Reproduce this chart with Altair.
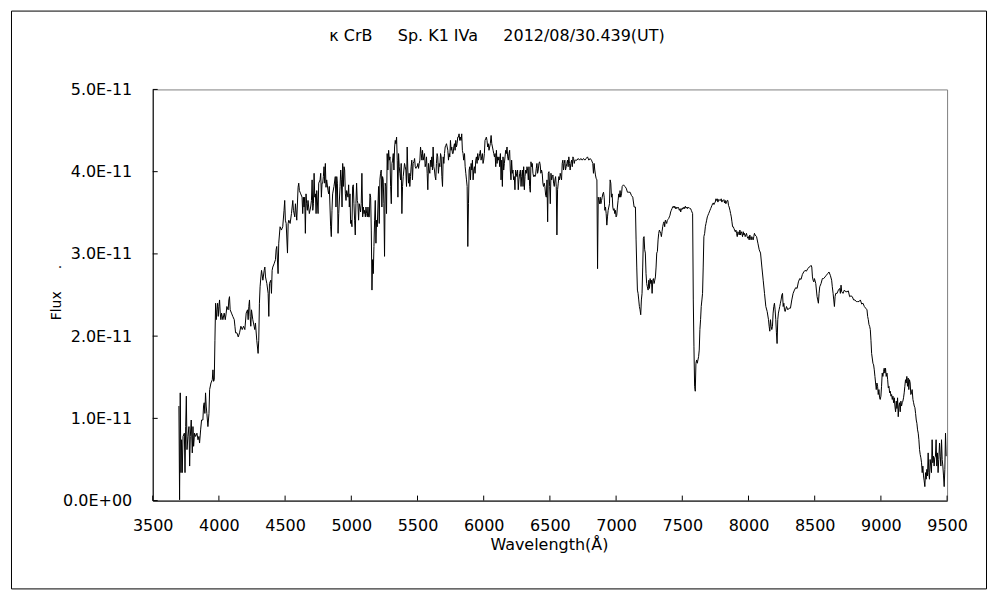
import altair as alt
import pandas as pd

# ---------------- text ----------------
NB = "\u00a0"
TITLE = "κ CrB" + NB * 5 + "Sp. K1 IVa" + NB * 5 + "2012/08/30.439(UT)"
X_TITLE = "Wavelength(Å)"
Y_TITLE = "Flux" + NB * 5 + "."

X_TICKS = [3500, 4000, 4500, 5000, 5500, 6000, 6500, 7000, 7500, 8000, 8500, 9000, 9500]
Y_TICKS_E11 = [0, 1, 2, 3, 4, 5]
Y_TICK_LABELS = ["0.0E+00", "1.0E-11", "2.0E-11", "3.0E-11", "4.0E-11", "5.0E-11"]

# ---------------- spectrum (flux in units of 1E-11) ----------------
BLUE_WL = [
    3698, 3703, 3708, 3713, 3718, 3723, 3729, 3739, 3744, 3749,
    3754, 3759, 3766, 3774, 3779, 3784, 3791, 3799, 3804, 3809,
    3816, 3824, 3834, 3842, 3849, 3854, 3862, 3869, 3879, 3884,
    3889, 3894, 3899, 3904, 3909, 3917, 3925, 3930, 3940, 3950,
    3955, 3960, 3965, 3970, 3975, 3980, 3985, 3990, 3995, 4000,
    4005, 4010, 4015, 4020, 4030, 4040, 4048, 4055, 4060, 4070,
    4075, 4080, 4085, 4095, 4105, 4116, 4121, 4126, 4136, 4146,
    4156, 4166, 4176, 4186, 4196, 4206, 4216, 4221, 4226, 4231,
    4236, 4241, 4246, 4256, 4266, 4271, 4276, 4286, 4296, 4301,
    4306, 4311, 4317, 4322, 4332, 4342, 4347, 4352, 4362, 4372,
    4377, 4382, 4392, 4397, 4402, 4407, 4417, 4427, 4432, 4437,
    4447, 4452, 4462, 4472, 4482, 4492, 4497, 4502, 4508, 4518,
    4523, 4528, 4538, 4548, 4558, 4563, 4573, 4578, 4588, 4598,
    4603, 4608, 4618, 4628, 4633, 4638, 4643, 4648, 4653, 4658,
    4663, 4668, 4673, 4683, 4693, 4699, 4704, 4709, 4714, 4719,
    4724, 4729, 4734, 4739, 4749, 4754, 4764, 4769, 4774, 4779,
    4784, 4789, 4794, 4799, 4804, 4809, 4814, 4824, 4829,
]
BLUE_FLUX = [
    1.15, 0.01, 1.31, 0.34, 0.74, 0.34, 0.78, 0.82, 0.34, 0.90,
    1.27, 0.62, 0.78, 0.90, 0.42, 0.78, 0.98, 0.58, 0.90, 0.66,
    0.82, 0.78, 0.82, 0.74, 0.78, 0.70, 0.86, 0.98, 0.98, 1.15,
    1.19, 1.06, 1.31, 1.15, 1.06, 0.90, 1.06, 1.35, 1.43, 1.47,
    1.59, 1.45, 1.47, 1.95, 2.40, 2.20, 2.32, 2.40, 2.24, 2.36,
    2.44, 2.28, 2.20, 2.28, 2.20, 2.28, 2.20, 2.28, 2.36, 2.32,
    2.44, 2.48, 2.32, 2.28, 2.24, 2.20, 2.12, 2.04, 2.04, 1.99,
    2.04, 2.12, 2.08, 2.12, 2.08, 2.28, 2.32, 2.20, 2.36, 2.44,
    2.24, 2.12, 2.32, 2.20, 2.12, 2.08, 2.16, 1.95, 1.79, 1.95,
    2.40, 2.60, 2.72, 2.80, 2.68, 2.80, 2.84, 2.72, 2.64, 2.52,
    2.24, 2.64, 2.68, 2.52, 2.80, 2.84, 2.88, 2.93, 3.05, 3.09,
    2.76, 3.13, 3.33, 3.29, 3.33, 3.53, 3.65, 3.41, 3.37, 3.01,
    3.37, 3.41, 3.37, 3.49, 3.65, 3.53, 3.45, 3.61, 3.41, 3.81,
    3.86, 3.77, 3.73, 3.69, 3.49, 3.69, 3.57, 3.69, 3.25, 3.73,
    3.61, 3.53, 3.65, 3.49, 3.57, 3.65, 3.90, 3.53, 3.61, 3.98,
    3.69, 3.73, 3.49, 3.77, 3.49, 3.86, 3.90, 3.98, 3.69, 3.86,
    3.86, 3.94, 4.06, 3.86, 4.10, 3.81, 3.90, 3.77, 3.73,
]

GREEN_WL = [
    4834, 4844, 4849, 4854, 4859, 4869, 4879, 4884, 4890, 4895,
    4900, 4905, 4915, 4920, 4925, 4930, 4935, 4940, 4945, 4950,
    4955, 4960, 4965, 4975, 4980, 4985, 4990, 4995, 5000, 5005,
    5010, 5015, 5020, 5025, 5030, 5035, 5040, 5045, 5050, 5055,
    5060, 5065, 5070, 5075, 5080, 5086, 5091, 5096, 5101, 5106,
    5111, 5116, 5121, 5126, 5131, 5136, 5141, 5146, 5151, 5156,
    5161, 5166, 5171, 5176, 5181, 5186, 5191, 5196, 5201, 5206,
    5211, 5216, 5221, 5226, 5231, 5236, 5241, 5246, 5251, 5256,
    5261, 5266, 5271, 5276, 5282, 5287, 5292, 5297, 5302, 5307,
    5312, 5317, 5322, 5327, 5332, 5337, 5342, 5347, 5352, 5357,
    5362, 5367, 5372, 5377, 5382, 5387, 5392, 5397, 5402, 5407,
    5412, 5417, 5422, 5427, 5432, 5437, 5442, 5447, 5452, 5457,
    5462, 5467, 5473, 5478, 5483, 5488, 5493, 5498, 5503, 5508,
    5513, 5518, 5523, 5528, 5533, 5538, 5543, 5548, 5553, 5558,
    5563, 5568, 5573, 5578, 5583, 5588, 5593, 5598, 5603, 5608,
    5613, 5618, 5623, 5628, 5633, 5638, 5643, 5648, 5653, 5658,
    5664, 5669, 5674, 5679, 5684, 5689, 5694, 5699, 5704, 5709,
    5714, 5719, 5724, 5729, 5734, 5739, 5744, 5749, 5754, 5759,
    5764, 5769, 5774, 5779, 5784, 5789, 5794, 5799, 5804, 5809,
    5814, 5819, 5824, 5829, 5834, 5839, 5844, 5849, 5855, 5860,
    5865, 5870, 5875, 5880, 5885, 5890, 5895, 5900, 5905, 5910,
    5915, 5920, 5925, 5930, 5935, 5940, 5945, 5950, 5955, 5960,
    5965, 5970, 5975, 5980, 5985, 5990, 5995, 6000, 6005, 6010,
    6015, 6020, 6025, 6030, 6035, 6040, 6045, 6050, 6056, 6061,
    6066, 6071, 6076, 6081, 6086, 6091, 6096, 6101, 6106, 6111,
]
GREEN_FLUX = [
    3.82, 3.33, 3.21, 3.53, 3.73, 3.82, 3.94, 3.57, 3.94, 3.86,
    3.25, 3.49, 3.82, 4.02, 3.90, 3.57, 4.10, 3.82, 4.06, 4.02,
    3.73, 3.65, 3.77, 3.69, 3.84, 3.57, 3.73, 3.37, 3.41, 3.33,
    3.82, 3.84, 3.61, 3.41, 3.23, 3.61, 3.86, 3.65, 3.61, 3.41,
    3.61, 3.57, 3.51, 3.61, 3.98, 3.45, 3.57, 3.49, 3.53, 3.45,
    3.57, 3.49, 3.45, 3.57, 3.45, 3.45, 3.73, 3.69, 3.29, 2.56,
    2.93, 2.76, 3.09, 3.41, 3.65, 3.13, 3.41, 3.33, 3.57, 3.82,
    3.37, 3.90, 3.98, 4.02, 3.57, 3.94, 3.90, 3.61, 2.97, 3.86,
    3.82, 3.49, 4.22, 4.02, 4.26, 4.14, 4.18, 3.82, 3.61, 4.10,
    4.14, 4.22, 4.02, 4.30, 4.38, 4.34, 4.42, 4.14, 3.69, 4.22,
    4.06, 3.98, 3.90, 4.10, 3.49, 3.82, 3.94, 4.02, 4.10, 4.06,
    4.02, 3.82, 4.30, 4.02, 3.86, 3.98, 3.82, 3.94, 4.06, 4.14,
    3.90, 4.10, 4.12, 4.16, 4.06, 4.04, 4.06, 4.06, 4.10, 4.04,
    4.10, 4.14, 4.30, 4.22, 4.14, 4.26, 4.14, 4.18, 4.22, 4.06,
    4.10, 4.18, 3.98, 3.78, 4.10, 4.02, 3.98, 4.14, 4.06, 4.18,
    4.02, 4.30, 4.06, 4.02, 3.94, 3.90, 4.10, 4.22, 4.18, 3.98,
    4.10, 4.06, 4.22, 4.18, 3.94, 3.82, 4.18, 4.10, 4.22, 4.30,
    4.32, 4.34, 4.30, 4.26, 4.14, 4.22, 4.18, 4.38, 4.26, 4.30,
    4.22, 4.22, 4.30, 4.34, 4.26, 4.38, 4.30, 4.34, 4.42, 4.42,
    4.46, 4.38, 4.42, 4.38, 4.46, 4.26, 4.22, 4.14, 4.22, 4.06,
    3.98, 3.90, 3.82, 3.09, 3.61, 4.02, 4.06, 3.90, 4.10, 4.02,
    4.14, 3.90, 4.02, 4.06, 3.98, 4.14, 4.18, 4.10, 4.22, 4.14,
    4.18, 4.22, 4.26, 4.14, 4.18, 4.22, 4.10, 4.14, 4.22, 4.38,
    4.40, 4.42, 4.38, 4.30, 4.34, 4.26, 4.30, 4.34, 4.44, 4.34,
    4.30, 4.26, 4.22, 4.18, 4.22, 4.06, 4.26, 4.10, 4.18, 4.14,
]

RED_WL = [
    6116, 6121, 6126, 6131, 6136, 6141, 6146, 6151, 6156, 6161,
    6166, 6171, 6176, 6181, 6186, 6191, 6196, 6201, 6206, 6211,
    6216, 6221, 6226, 6231, 6236, 6241, 6246, 6251, 6256, 6261,
    6266, 6272, 6277, 6282, 6287, 6292, 6297, 6302, 6307, 6312,
    6317, 6322, 6327, 6332, 6337, 6342, 6347, 6352, 6357, 6362,
    6367, 6372, 6377, 6382, 6387, 6392, 6397, 6402, 6407, 6412,
    6417, 6422, 6427, 6432, 6437, 6442, 6447, 6452, 6457, 6462,
    6468, 6473, 6478, 6483, 6488, 6493, 6498, 6503, 6508, 6513,
    6518, 6523, 6528, 6533, 6538, 6543, 6548, 6553, 6558, 6563,
    6568, 6573, 6578, 6583, 6588, 6593, 6598, 6603, 6608, 6613,
    6618, 6623, 6628, 6633, 6638, 6643, 6648, 6653, 6658, 6664,
    6669, 6674, 6679, 6684, 6689, 6694, 6704, 6714, 6724, 6734,
    6744, 6754, 6764, 6774, 6784, 6794, 6804, 6814, 6824, 6829,
    6834, 6839, 6844, 6849, 6855, 6860, 6865, 6870, 6875, 6880,
    6885, 6890, 6895, 6900, 6905, 6910, 6915, 6920, 6925, 6930,
    6935, 6940, 6945, 6950, 6955, 6960, 6965, 6970, 6975, 6980,
    6985, 6990, 6995, 7000, 7005, 7010, 7015, 7020, 7025, 7030,
    7035, 7041, 7046, 7056, 7066, 7076, 7086, 7096, 7106, 7116,
    7126, 7136,
]
RED_FLUX = [
    4.18, 4.06, 4.22, 3.90, 4.14, 3.82, 4.18, 4.02, 4.10, 4.18,
    4.26, 4.22, 4.30, 4.18, 4.14, 4.22, 4.26, 4.02, 3.90, 4.14,
    3.98, 4.02, 3.90, 3.94, 3.78, 4.02, 3.98, 3.94, 4.02, 3.78,
    3.90, 3.98, 4.02, 3.82, 3.94, 4.02, 3.82, 4.06, 3.78, 3.94,
    4.02, 3.98, 4.06, 4.02, 3.90, 4.06, 3.82, 3.75, 4.12, 4.06,
    4.10, 3.98, 3.94, 3.96, 3.94, 3.96, 4.04, 4.10, 3.98, 4.02,
    4.10, 4.12, 4.08, 3.98, 4.02, 3.98, 3.86, 3.82, 3.86, 3.82,
    3.71, 3.69, 3.90, 3.39, 3.98, 4.00, 3.82, 3.61, 3.98, 3.90,
    3.94, 3.96, 3.86, 3.82, 3.90, 3.94, 3.82, 3.23, 3.78, 3.86,
    3.94, 3.90, 3.98, 3.94, 3.90, 4.10, 4.14, 4.02, 4.10, 4.14,
    4.02, 4.06, 4.10, 4.14, 4.06, 4.18, 4.10, 4.02, 4.10, 4.14,
    4.06, 4.18, 4.16, 4.10, 4.14, 4.14, 4.14, 4.16, 4.14, 4.16,
    4.14, 4.16, 4.14, 4.16, 4.18, 4.14, 4.16, 4.14, 4.10, 3.98,
    4.10, 4.02, 3.96, 3.92, 3.90, 2.82, 3.69, 3.65, 3.61, 3.69,
    3.61, 3.65, 3.69, 3.73, 3.75, 3.69, 3.53, 3.57, 3.49, 3.35,
    3.45, 3.53, 3.57, 3.61, 3.90, 3.86, 3.69, 3.73, 3.57, 3.53,
    3.55, 3.49, 3.53, 3.45, 3.47, 3.57, 3.65, 3.73, 3.69, 3.77,
    3.69, 3.73, 3.82, 3.84, 3.82, 3.80, 3.75, 3.75, 3.75, 3.71,
    3.69, 3.57,
]

NIR_WL = [
    7146, 7151, 7156, 7161, 7166, 7171, 7176, 7181, 7186, 7191,
    7196, 7201, 7206, 7211, 7216, 7221, 7226, 7231, 7236, 7242,
    7247, 7252, 7257, 7262, 7267, 7272, 7277, 7282, 7287, 7292,
    7297, 7302, 7307, 7312, 7317, 7322, 7327, 7332, 7337, 7342,
    7347, 7352, 7357, 7362, 7367, 7372, 7377, 7382, 7387, 7392,
    7397, 7402, 7407, 7412, 7417, 7422, 7427, 7432, 7438, 7443,
    7448, 7453, 7458, 7463, 7468, 7473, 7478, 7483, 7488, 7493,
    7498, 7503, 7508, 7513, 7518, 7523, 7528, 7533, 7538, 7543,
    7548, 7553, 7558, 7563, 7568, 7573, 7578, 7583, 7588, 7593,
    7598, 7603, 7608, 7613, 7623, 7628, 7633, 7638, 7643, 7648,
    7653, 7658, 7663, 7669, 7674, 7679, 7684, 7689, 7694, 7699,
    7704, 7709, 7714, 7719, 7724, 7729, 7734, 7739, 7744, 7749,
    7754, 7759, 7764, 7769, 7774, 7779, 7784, 7789, 7794, 7799,
    7804, 7809, 7814, 7819, 7824, 7829, 7834, 7839, 7844, 7849,
    7854, 7860, 7865, 7870, 7875, 7880, 7885, 7890, 7895, 7900,
    7905, 7910, 7915, 7920, 7925, 7930, 7935, 7940, 7945, 7950,
    7955, 7960, 7965, 7970, 7975, 7980, 7985, 7990, 7995, 8000,
    8005, 8010, 8015, 8020, 8025, 8030, 8035, 8040, 8045, 8050,
    8061, 8071, 8081, 8091, 8101, 8111, 8121, 8131, 8141, 8151,
    8156, 8161, 8166, 8171, 8176, 8181, 8186, 8191, 8196, 8201,
    8206, 8211, 8216, 8221, 8226, 8231, 8236, 8241, 8246, 8252,
    8257, 8262, 8267, 8272, 8277, 8287, 8297, 8307, 8317, 8327,
    8337, 8347, 8357, 8367, 8377, 8387, 8397, 8407, 8417, 8427,
    8437, 8448, 8458, 8468, 8473, 8478, 8483, 8488, 8493, 8498,
    8508, 8518, 8523, 8528, 8533, 8538, 8548, 8558, 8568, 8578,
    8588, 8598, 8608, 8618, 8628, 8633, 8639, 8644, 8649, 8654,
    8659, 8669, 8679, 8689, 8694, 8699, 8704, 8714, 8724, 8734,
    8744, 8754, 8764, 8774, 8784, 8794, 8804, 8814, 8824, 8835,
    8845, 8855, 8865, 8875, 8885, 8895, 8900, 8905, 8910, 8915,
    8920, 8925, 8930,
]
NIR_FLUX = [
    3.57, 3.17, 2.84, 2.56, 2.52, 2.44, 2.36, 2.32, 2.26, 2.44,
    2.52, 2.84, 3.19, 3.21, 3.05, 3.01, 2.76, 2.64, 2.60, 2.56,
    2.68, 2.58, 2.70, 2.64, 2.68, 2.52, 2.68, 2.70, 2.64, 2.68,
    2.72, 2.84, 3.01, 3.03, 3.17, 3.25, 3.29, 3.27, 3.25, 3.21,
    3.27, 3.33, 3.37, 3.39, 3.33, 3.41, 3.39, 3.37, 3.41, 3.42,
    3.43, 3.45, 3.47, 3.51, 3.53, 3.55, 3.57, 3.58, 3.56, 3.58,
    3.55, 3.57, 3.55, 3.56, 3.57, 3.55, 3.53, 3.55, 3.51, 3.55,
    3.54, 3.56, 3.55, 3.57, 3.55, 3.58, 3.56, 3.57, 3.55, 3.57,
    3.56, 3.56, 3.55, 3.55, 3.53, 3.51, 3.49, 2.44, 1.87, 1.39,
    1.33, 1.67, 1.71, 1.67, 1.75, 1.83, 2.08, 2.20, 2.36, 2.44,
    2.52, 2.84, 3.21, 3.25, 3.33, 3.37, 3.41, 3.45, 3.47, 3.49,
    3.51, 3.53, 3.55, 3.57, 3.59, 3.61, 3.62, 3.60, 3.62, 3.63,
    3.67, 3.65, 3.67, 3.63, 3.66, 3.65, 3.66, 3.65, 3.67, 3.63,
    3.65, 3.65, 3.66, 3.62, 3.65, 3.61, 3.63, 3.65, 3.65, 3.59,
    3.57, 3.53, 3.49, 3.45, 3.39, 3.33, 3.33, 3.31, 3.29, 3.27,
    3.29, 3.25, 3.21, 3.27, 3.25, 3.23, 3.29, 3.23, 3.27, 3.25,
    3.21, 3.27, 3.23, 3.25, 3.21, 3.23, 3.25, 3.21, 3.19, 3.21,
    3.17, 3.23, 3.19, 3.17, 3.21, 3.19, 3.17, 3.21, 3.25, 3.23,
    3.21, 3.13, 3.05, 3.01, 2.84, 2.68, 2.52, 2.36, 2.30, 2.20,
    2.12, 2.06, 2.20, 2.12, 2.08, 2.12, 2.28, 2.36, 2.40, 2.32,
    2.20, 2.04, 1.91, 2.20, 2.28, 2.32, 2.36, 2.40, 2.44, 2.50,
    2.52, 2.36, 2.40, 2.32, 2.30, 2.36, 2.32, 2.34, 2.34, 2.44,
    2.52, 2.56, 2.59, 2.58, 2.66, 2.70, 2.69, 2.75, 2.78, 2.80,
    2.79, 2.82, 2.84, 2.85, 2.86, 2.84, 2.72, 2.68, 2.66, 2.70,
    2.64, 2.48, 2.44, 2.40, 2.52, 2.60, 2.64, 2.70, 2.70, 2.72,
    2.74, 2.76, 2.78, 2.74, 2.68, 2.60, 2.52, 2.44, 2.36, 2.48,
    2.52, 2.52, 2.56, 2.58, 2.52, 2.62, 2.54, 2.52, 2.56, 2.54,
    2.54, 2.55, 2.48, 2.49, 2.48, 2.44, 2.44, 2.42, 2.42, 2.42,
    2.44, 2.39, 2.40, 2.36, 2.34, 2.32, 2.24, 2.20, 2.14, 2.12,
    2.08, 1.95, 1.79,
]

EDGE_WL = [
    8940, 8945, 8950, 8955, 8960, 8965, 8970, 8975, 8980, 8985,
    8990, 8995, 9000, 9005, 9010, 9015, 9020, 9025, 9030, 9035,
    9040, 9046, 9051, 9056, 9061, 9066, 9071, 9076, 9081, 9086,
    9091, 9096, 9101, 9106, 9111, 9116, 9121, 9126, 9131, 9136,
    9141, 9146, 9151, 9156, 9161, 9166, 9171, 9176, 9181, 9186,
    9191, 9196, 9201, 9206, 9211, 9216, 9221, 9226, 9231, 9236,
    9242, 9247, 9252, 9257, 9262, 9267, 9272, 9277, 9282, 9287,
    9292, 9297, 9302, 9307, 9312, 9317, 9322, 9327, 9332, 9337,
    9342, 9347, 9352, 9357, 9362, 9367, 9372, 9377, 9382, 9387,
    9392, 9397, 9402, 9407, 9412, 9417, 9422, 9427, 9432, 9437,
    9443, 9448, 9453, 9458, 9463, 9468, 9473, 9478, 9483, 9488,
    9493,
]
EDGE_FLUX = [
    1.67, 1.65, 1.59, 1.51, 1.43, 1.35, 1.43, 1.39, 1.29, 1.35,
    1.25, 1.23, 1.27, 1.39, 1.55, 1.51, 1.57, 1.61, 1.55, 1.61,
    1.51, 1.55, 1.47, 1.37, 1.39, 1.31, 1.33, 1.27, 1.29, 1.23,
    1.27, 1.19, 1.25, 1.15, 1.08, 1.21, 1.12, 1.25, 1.02, 1.15,
    1.19, 1.08, 1.21, 1.15, 1.19, 1.21, 1.25, 1.31, 1.39, 1.47,
    1.43, 1.51, 1.39, 1.49, 1.35, 1.47, 1.43, 1.29, 1.31, 1.35,
    1.23, 1.19, 1.15, 1.13, 1.06, 0.98, 0.94, 0.86, 0.82, 0.74,
    0.62, 0.56, 0.52, 0.46, 0.34, 0.42, 0.30, 0.24, 0.17, 0.34,
    0.26, 0.38, 0.30, 0.58, 0.34, 0.26, 0.50, 0.42, 0.34, 0.74,
    0.46, 0.54, 0.42, 0.52, 0.54, 0.74, 0.42, 0.58, 0.34, 0.50,
    0.70, 0.54, 0.42, 0.74, 0.50, 0.42, 0.30, 0.17, 0.38, 0.82,
    0.54,
]

# ---------------- build table ----------------
rows = []
for wls, fls in [(BLUE_WL, BLUE_FLUX), (GREEN_WL, GREEN_FLUX), (RED_WL, RED_FLUX),
                 (NIR_WL, NIR_FLUX), (EDGE_WL, EDGE_FLUX)]:
    for w, f in zip(wls, fls, strict=True):
        rows.append({"wl": w, "flux": f * 1e-11})
df = pd.DataFrame(rows)

FONT = "DejaVu Sans"
W, H = 796, 412

x_scale = alt.Scale(domain=[3500, 9500], nice=False, zero=False)
y_scale = alt.Scale(domain=[0, 5e-11], nice=False, zero=True)

label_list = ",".join("'" + s + "'" for s in Y_TICK_LABELS)
x_axis = alt.Axis(
    values=X_TICKS, format="d", ticks=False, tickSize=0, grid=False,
    domainColor="black", domainWidth=1,
    labelFont=FONT, labelFontSize=16, labelColor="black", labelPadding=30,
    labelBaseline="alphabetic", labelFlush=False, labelOverlap=False,
    title=X_TITLE, titleFont=FONT, titleFontSize=16, titleFontWeight="normal",
    titleColor="black", titleX=397, titleY=49, titleAlign="center",
    titleBaseline="alphabetic",
)
y_axis = alt.Axis(
    values=[v * 1e-11 for v in Y_TICKS_E11],
    labelExpr="[" + label_list + "][round(datum.value * 1e11)]",
    ticks=False, tickSize=0, grid=False,
    domainColor="black", domainWidth=1,
    labelFont=FONT, labelFontSize=16, labelColor="black", labelPadding=21,
    labelAlign="right", labelBaseline="middle", labelFlush=False, labelOverlap=False,
    title=Y_TITLE, titleFont=FONT, titleFontSize=14, titleFontWeight="normal",
    titleColor="black", titleAngle=270, titleX=-92, titleY=203,
    titleAlign="center", titleBaseline="alphabetic",
)

line = alt.Chart(df).mark_line(color="black", strokeWidth=1).encode(
    x=alt.X("wl:Q", scale=x_scale, axis=x_axis),
    y=alt.Y("flux:Q", scale=y_scale, axis=y_axis),
)

xt = alt.Chart(pd.DataFrame({"wl": X_TICKS})).mark_rule(color="black", strokeWidth=1).encode(
    x=alt.X("wl:Q", scale=x_scale, axis=x_axis),
    y=alt.value(H),
    y2=alt.value(H - 5),
)
yt = alt.Chart(pd.DataFrame({"flux": [v * 1e-11 for v in Y_TICKS_E11]})).mark_rule(
    color="black", strokeWidth=1
).encode(
    y=alt.Y("flux:Q", scale=y_scale, axis=y_axis),
    x=alt.value(0),
    x2=alt.value(5),
)

frame = alt.Chart(alt.Data(values=[{"k": 1}])).mark_rect(
    fillOpacity=0, stroke="black", strokeWidth=1
).encode(
    x=alt.value(-141.5), x2=alt.value(835.5), y=alt.value(-78.5), y2=alt.value(500.5)
)

title = alt.Chart(alt.Data(values=[{"k": 1}])).mark_text(
    text=TITLE, font=FONT, fontSize=16, align="center", baseline="middle", color="black"
).encode(x=alt.value(345), y=alt.value(-54))

chart = alt.layer(frame, line, xt, yt, title).properties(
    width=W,
    height=H,
    autosize=alt.AutoSizeParams(type="none"),
    padding={"left": 145, "top": 81, "right": 45, "bottom": 95},
    background="white",
).configure_view(stroke="#808080", strokeWidth=1)

chart.save("out.html", embed_options={"renderer": "svg", "actions": False})
